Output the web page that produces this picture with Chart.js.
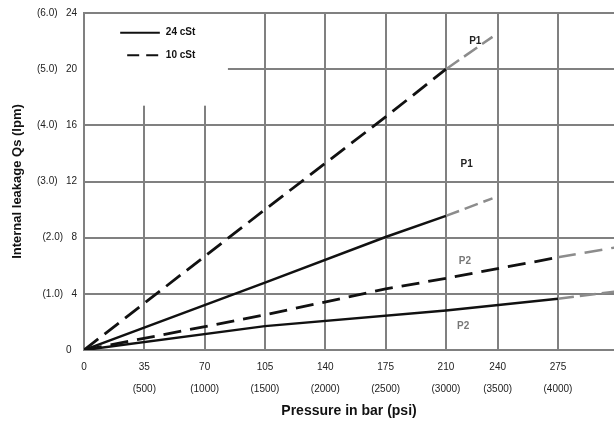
<!DOCTYPE html>
<html>
<head>
<meta charset="utf-8">
<script src="https://cdn.jsdelivr.net/npm/chart.js@4.4.1/dist/chart.umd.min.js"></script>
<style>
html,body{margin:0;padding:0;background:#fff;}
#wrap{width:614px;height:423px;}
</style>
</head>
<body>
<div id="wrap"><canvas id="c" width="614" height="423"></canvas></div>
<script>
// ---- data ----
const xTicks = [0, 35, 70, 105, 140, 175, 210, 240, 275];
const xTickPsi = ['', '(500)', '(1000)', '(1500)', '(2000)', '(2500)', '(3000)', '(3500)', '(4000)'];
const yTicks = [0, 4, 8, 12, 16, 20, 24];
const yTickGpm = ['', '(1.0)', '(2.0)', '(3.0)', '(4.0)', '(5.0)', '(6.0)'];

// 24 cSt (solid)
const p1_24_bar = [0, 105, 175, 210];
const p1_24_lpm = [0, 4.8, 8.05, 9.55];
const p1_24_ext_bar = [210, 237];
const p1_24_ext_lpm = [9.55, 10.8];
const p2_24_bar = [0, 105, 210, 275];
const p2_24_lpm = [0, 1.7, 2.82, 3.65];
const p2_24_ext_bar = [275, 308];
const p2_24_ext_lpm = [3.65, 4.15];

// 10 cSt (dashed)
const p1_10_bar = [0, 105, 175, 210];
const p1_10_lpm = [0, 10.0, 16.6, 20.0];
const p1_10_ext_bar = [210, 237];
const p1_10_ext_lpm = [20.0, 22.3];
const p2_10_bar = [0, 105, 175, 210, 275];
const p2_10_lpm = [0, 2.5, 4.35, 5.1, 6.6];
const p2_10_ext_bar = [275, 308];
const p2_10_ext_lpm = [6.6, 7.3];

const seriesLabels = ['24 cSt', '10 cSt'];
const curveLabels = ['P1', 'P1', 'P2', 'P2'];

function pts(xs, ys){ return xs.map((x,i)=>({x:x, y:ys[i]})); }

const BLACK = '#111';
const GREY = '#8c8c8c';
const GRID = '#808080';
const FONT = "'Liberation Sans', Arial, sans-serif";

function ds(xs, ys, color, dash, width){
  return {data: pts(xs, ys), borderColor: color, borderDash: dash, borderWidth: width,
          pointRadius: 0, tension: 0, fill: false, showLine: true};
}

const datasets = [
  ds(p1_24_bar, p1_24_lpm, BLACK, [], 2.5),
  ds(p1_24_ext_bar, p1_24_ext_lpm, GREY, [14,6], 2.5),
  ds(p2_24_bar, p2_24_lpm, BLACK, [], 2.5),
  ds(p2_24_ext_bar, p2_24_ext_lpm, GREY, [16,6], 2.5),
  ds(p1_10_bar, p1_10_lpm, BLACK, [18,8], 2.8),
  ds(p1_10_ext_bar, p1_10_ext_lpm, GREY, [16,6], 2.5),
  ds(p2_10_bar, p2_10_lpm, BLACK, [18,9], 2.8),
  ds(p2_10_ext_bar, p2_10_ext_lpm, GREY, [18,9], 2.5)
];

const overlay = {
  id: 'overlay',
  beforeDatasetsDraw(chart){
    const {ctx} = chart, xs = chart.scales.x, ys = chart.scales.y;
    ctx.save();
    ctx.fillStyle = '#fff';
    const l = xs.getPixelForValue(0) + 1, r = xs.getPixelForValue(83.5);
    const t = ys.getPixelForValue(24) + 1, b = ys.getPixelForValue(17.4);
    ctx.fillRect(l, t, r - l, b - t);
    ctx.restore();
  },
  afterDatasetsDraw(chart){
    const {ctx} = chart, xs = chart.scales.x, ys = chart.scales.y;
    ctx.save();
    const lx0 = xs.getPixelForValue(21), lx1 = xs.getPixelForValue(44);
    const ly1 = ys.getPixelForValue(22.6), ly2 = ys.getPixelForValue(21.0);
    ctx.strokeStyle = BLACK; ctx.lineWidth = 2;
    ctx.beginPath(); ctx.moveTo(lx0, ly1); ctx.lineTo(lx1, ly1); ctx.stroke();
    ctx.setLineDash([12,7]);
    ctx.beginPath(); ctx.moveTo(lx0 + 7, ly2); ctx.lineTo(lx1, ly2); ctx.stroke();
    ctx.setLineDash([]);
    ctx.fillStyle = BLACK;
    ctx.font = "bold 10px " + FONT;
    ctx.textBaseline = 'middle';
    ctx.textAlign = 'left';
    ctx.fillText(seriesLabels[0], lx1 + 6, ly1);
    ctx.fillText(seriesLabels[1], lx1 + 6, ly2);
    ctx.textAlign = 'center';
    ctx.fillStyle = '#222';
    ctx.fillText(curveLabels[0], xs.getPixelForValue(227), ys.getPixelForValue(22.0));
    ctx.fillText(curveLabels[1], xs.getPixelForValue(222), ys.getPixelForValue(13.2));
    ctx.fillStyle = '#777';
    ctx.fillText(curveLabels[2], xs.getPixelForValue(221), ys.getPixelForValue(6.3));
    ctx.fillText(curveLabels[3], xs.getPixelForValue(220), ys.getPixelForValue(1.7));
    ctx.restore();
  }
};

new Chart(document.getElementById('c'), {
  type: 'scatter',
  data: {datasets},
  options: {
    responsive: false,
    animation: false,
    devicePixelRatio: 1,
    layout: {padding: {top: 10, right: 0, left: 0, bottom: 0}},
    plugins: {legend: {display: false}, tooltip: {enabled: false}},
    scales: {
      x: {
        type: 'linear', min: 0, max: 307.5,
        afterBuildTicks(s){ s.ticks = xTicks.map(v => ({value: v})); },
        afterFit(s){ s.height = 73; },
        grid: {color: GRID, lineWidth: 2, drawTicks: false},
        border: {color: GRID, width: 2},
        ticks: {
          autoSkip: false, maxRotation: 0, padding: 6,
          color: '#222', font: {family: FONT, size: 10, lineHeight: 2.2},
          callback(v){
            const i = xTicks.indexOf(v);
            return i <= 0 ? String(v) : [String(v), xTickPsi[i]];
          }
        },
        title: {display: true, text: 'Pressure in bar (psi)', color: '#111',
                font: {family: FONT, size: 14, weight: 'bold'}, padding: {top: 0, bottom: 3}}
      },
      y: {
        type: 'linear', min: 0, max: 24,
        afterBuildTicks(s){ s.ticks = yTicks.map(v => ({value: v})); },
        afterFit(s){ s.width = 84; },
        grid: {color: GRID, lineWidth: 2, drawTicks: false},
        border: {color: GRID, width: 2},
        ticks: {
          padding: 7, color: '#222', font: {family: FONT, size: 10},
          callback(v){
            const i = yTicks.indexOf(v);
            return i <= 0 ? '0  ' : yTickGpm[i] + '   ' + v;
          }
        },
        title: {display: true, text: 'Internal leakage Qs (lpm)', color: '#111',
                font: {family: FONT, size: 13, weight: 'bold'}, padding: {top: 10, bottom: 0}}
      }
    }
  },
  plugins: [overlay]
});
</script>
</body>
</html>
